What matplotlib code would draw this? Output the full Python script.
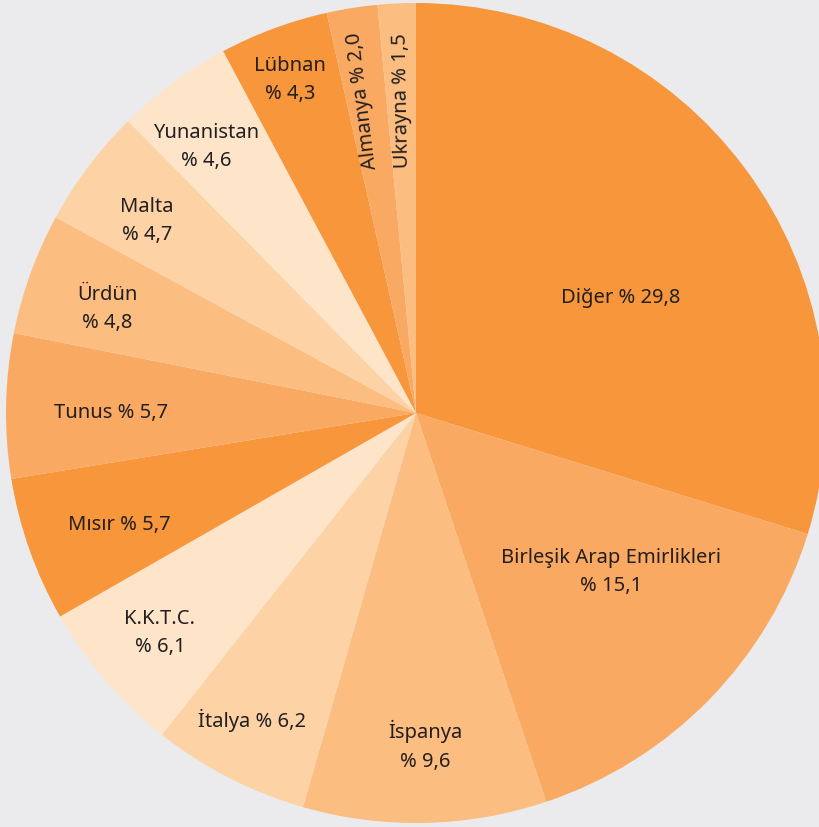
import matplotlib
matplotlib.use('Agg')
import matplotlib.pyplot as plt

# Country shares (%)
countries = ['Diğer', 'Birleşik Arap Emirlikleri', 'İspanya', 'İtalya', 'K.K.T.C.',
             'Mısır', 'Tunus', 'Ürdün', 'Malta', 'Yunanistan', 'Lübnan', 'Almanya', 'Ukrayna']
shares = [29.8, 15.1, 9.6, 6.2, 6.1, 5.7, 5.7, 4.8, 4.7, 4.6, 4.3, 2.0, 1.5]
share_labels = ['29,8', '15,1', '9,6', '6,2', '6,1', '5,7', '5,7', '4,8', '4,7', '4,6', '4,3', '2,0', '1,5']

colors = ['#f7963a', '#f9a962', '#fbbd80', '#fdd3a6', '#fee5ca',
          '#f7963a', '#f9a962', '#fbbd80', '#fdd3a6', '#fee5ca',
          '#f7963a', '#f9a962', '#fbbd80']

W, H = 819, 827
CX, CY, R = 416, 413, 410

fig = plt.figure(figsize=(W / 100, H / 100), dpi=100)
fig.patch.set_facecolor('#ebebed')
ax = fig.add_axes([0, 0, 1, 1])
ax.set_facecolor('#ebebed')
ax.pie(shares, colors=colors, startangle=90, counterclock=False, radius=1,
       wedgeprops=dict(linewidth=0))
ax.set_xlim(-CX / R, (W - CX) / R)
ax.set_ylim(-(H - CY) / R, CY / R)
ax.set_aspect('auto')
ax.axis('off')

def px(x, y):
    return (x - CX) / R, (CY - y) / R

# label layout: (format, x, y, rotation) in pixel coords
label_layout = [
    ('{c} % {v}', 621, 298, 0),
    ('{c}\n% {v}', 611, 572, 0),
    ('{c}\n% {v}', 425, 746, 0),
    ('{c} % {v}', 252, 720, 0),
    ('{c}\n% {v}', 160, 633, 0),
    ('{c} % {v}', 119, 525, 0),
    ('{c} % {v}', 111, 413, 0),
    ('{c}\n% {v}', 107, 309, 0),
    ('{c}\n% {v}', 147, 221, 0),
    ('{c}\n% {v}', 206, 147, 0),
    ('{c}\n% {v}', 290, 80, 0),
    ('{c} % {v}', 363, 101, 97),
    ('{c} % {v}', 402, 101, 91),
]

for (fmt, x, y, rot), c, v in zip(label_layout, countries, share_labels):
    tx, ty = px(x, y)
    ax.text(tx, ty, fmt.format(c=c, v=v), ha='center', va='center', rotation=rot,
            rotation_mode='anchor', fontsize=14.5, color='#231f20',
            family='Noto Sans', linespacing=1.55)

fig.savefig('out.png', dpi=100, facecolor=fig.get_facecolor())
